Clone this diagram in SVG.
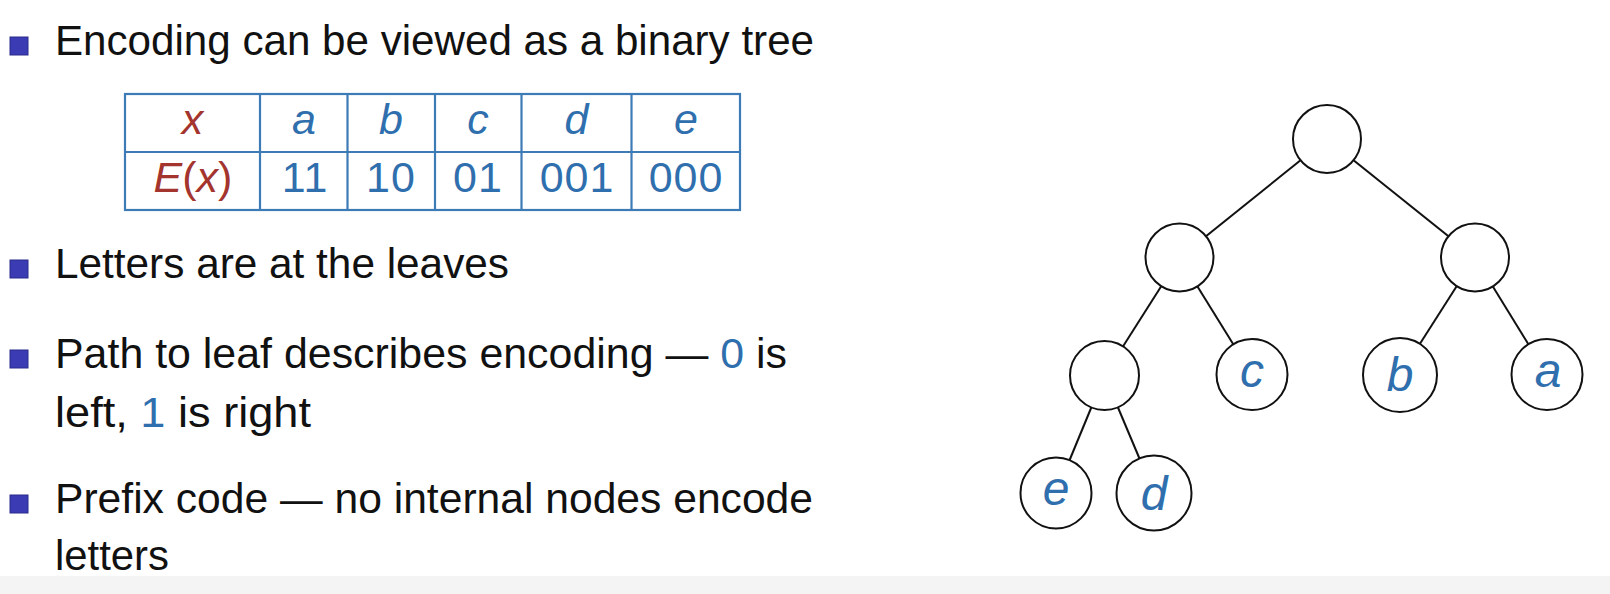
<svg xmlns="http://www.w3.org/2000/svg" width="1610" height="594" viewBox="0 0 1610 594">
  <style>
    .body { font-family: "Liberation Sans", Arial, sans-serif; font-size: 43px; fill: #111; }
    .blue { fill: #2f6fae; }
    .red { fill: #a3342e; }
    .cell { font-family: "Liberation Sans", Arial, sans-serif; font-size: 43px; text-anchor: middle; }
    .ital { font-style: italic; }
    .grid { stroke: #3d7bb6; stroke-width: 2.2; fill: none; }
    .bullet { fill: #3b3bb3; stroke: #2b2b8c; stroke-width: 1; }
    .node { fill: #fff; stroke: #111; stroke-width: 2; }
    .edge { stroke: #111; stroke-width: 2; }
    .leaf { font-family: "Liberation Sans", Arial, sans-serif; font-size: 48px; font-style: italic; fill: #2f6fae; text-anchor: middle; }
  </style>

  <rect width="1610" height="594" fill="#fff"/>
  <rect x="0" y="576" width="1610" height="18" fill="#f4f4f4"/>

  <!-- bullet list -->
  <g id="bullets">
    <rect class="bullet" x="10" y="37" width="18" height="18"/>
    <rect class="bullet" x="10" y="260" width="18" height="18"/>
    <rect class="bullet" x="10" y="350" width="18" height="18"/>
    <rect class="bullet" x="10" y="495" width="18" height="18"/>
  </g>
  <g id="text">
    <text class="body" x="55" y="55" textLength="759" lengthAdjust="spacingAndGlyphs">Encoding can be viewed as a binary tree</text>
    <text class="body" x="55" y="278" textLength="454" lengthAdjust="spacingAndGlyphs">Letters are at the leaves</text>
    <text class="body" x="55" y="368" textLength="732" lengthAdjust="spacingAndGlyphs">Path to leaf describes encoding — <tspan class="blue">0</tspan> is</text>
    <text class="body" x="55" y="427" textLength="256" lengthAdjust="spacingAndGlyphs">left, <tspan class="blue">1</tspan> is right</text>
    <text class="body" x="55" y="513" textLength="758" lengthAdjust="spacingAndGlyphs">Prefix code — no internal nodes encode</text>
    <text class="body" x="55" y="570" textLength="114" lengthAdjust="spacingAndGlyphs">letters</text>
  </g>

  <!-- code table -->
  <g id="table">
    <rect class="grid" x="125" y="94" width="615" height="116"/>
    <line class="grid" x1="125" y1="152" x2="740" y2="152"/>
    <line class="grid" x1="260" y1="94" x2="260" y2="210"/>
    <line class="grid" x1="347.5" y1="94" x2="347.5" y2="210"/>
    <line class="grid" x1="435" y1="94" x2="435" y2="210"/>
    <line class="grid" x1="521.5" y1="94" x2="521.5" y2="210"/>
    <line class="grid" x1="631.5" y1="94" x2="631.5" y2="210"/>

    <text class="cell ital red" x="192.5" y="134">x</text>
    <text class="cell ital blue" x="304" y="134">a</text>
    <text class="cell ital blue" x="391" y="134">b</text>
    <text class="cell ital blue" x="478" y="134">c</text>
    <text class="cell ital blue" x="576.5" y="134">d</text>
    <text class="cell ital blue" x="686" y="134">e</text>

    <text class="cell red" x="193" y="192"><tspan class="ital">E</tspan>(<tspan class="ital">x</tspan>)</text>
    <text class="cell blue" x="305" y="192" letter-spacing="1">11</text>
    <text class="cell blue" x="391" y="192" letter-spacing="1">10</text>
    <text class="cell blue" x="478" y="192" letter-spacing="1">01</text>
    <text class="cell blue" x="577" y="192" letter-spacing="1">001</text>
    <text class="cell blue" x="686" y="192" letter-spacing="1">000</text>
  </g>

  <!-- tree connectors (drawn centre to centre, covered by node fills) -->
  <g id="connectors">
    <line class="edge" x1="1327" y1="139" x2="1179.5" y2="257.5"/>
    <line class="edge" x1="1327" y1="139" x2="1475" y2="257.5"/>
    <line class="edge" x1="1179.5" y1="257.5" x2="1104.5" y2="375.5"/>
    <line class="edge" x1="1179.5" y1="257.5" x2="1252" y2="374.5"/>
    <line class="edge" x1="1475" y1="257.5" x2="1400" y2="375"/>
    <line class="edge" x1="1475" y1="257.5" x2="1547" y2="374.5"/>
    <line class="edge" x1="1104.5" y1="375.5" x2="1056" y2="493"/>
    <line class="edge" x1="1104.5" y1="375.5" x2="1154" y2="493"/>
  </g>

  <!-- tree nodes -->
  <g id="node-root"><circle class="node" cx="1327" cy="139" r="34"/></g>
  <g id="node-0"><circle class="node" cx="1179.5" cy="257.5" r="34"/></g>
  <g id="node-1"><circle class="node" cx="1475" cy="257.5" r="34"/></g>
  <g id="node-00"><circle class="node" cx="1104.5" cy="375.5" r="34.5"/></g>
  <g id="node-c"><circle class="node" cx="1252" cy="374.5" r="35.5"/><text class="leaf" x="1252" y="387">c</text></g>
  <g id="node-b"><circle class="node" cx="1400" cy="375" r="37"/><text class="leaf" x="1400" y="391">b</text></g>
  <g id="node-a"><circle class="node" cx="1547" cy="374.5" r="35.5"/><text class="leaf" x="1548" y="387">a</text></g>
  <g id="node-e"><circle class="node" cx="1056" cy="493" r="35.5"/><text class="leaf" x="1056" y="505">e</text></g>
  <g id="node-d"><circle class="node" cx="1154" cy="493" r="37.5"/><text class="leaf" x="1154" y="510">d</text></g>
</svg>
